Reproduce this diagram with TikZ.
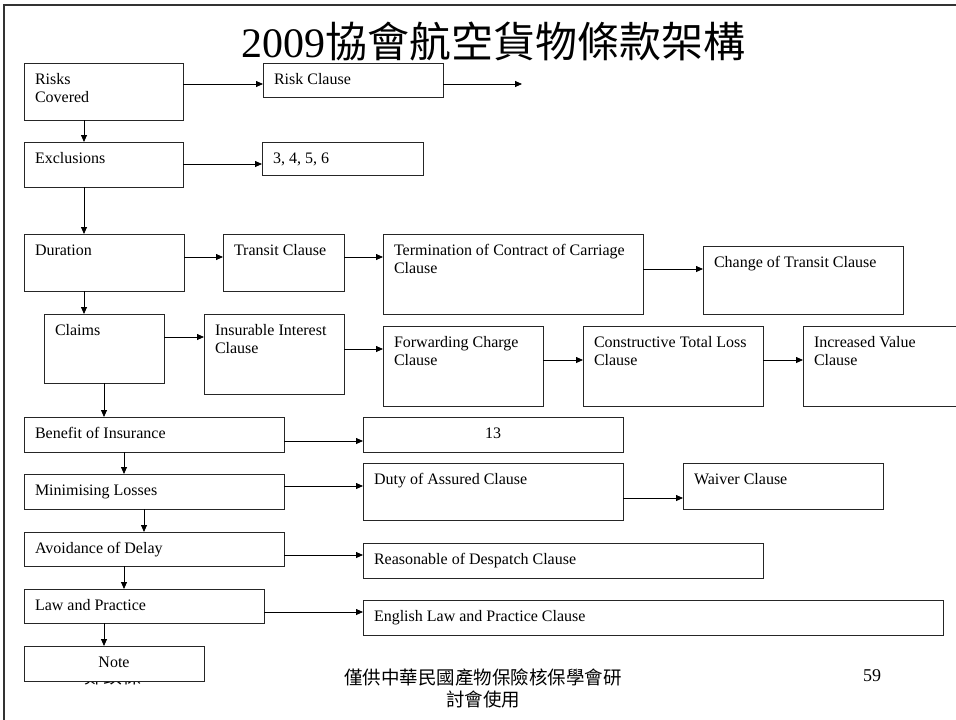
\documentclass[tikz,border=0pt]{standalone}
\usepackage{fontspec}
\setmainfont{Liberation Serif}
\newfontfamily\cjk{Noto Sans CJK TC}
\usetikzlibrary{arrows.meta}
\tikzset{
  boxst/.style={draw=black!85, line width=0.9pt, fill=white, inner sep=0pt, outer sep=0pt, anchor=north west},
  txt/.style={inner sep=0pt, outer sep=0pt, font=\fontsize{16}{18}\selectfont},
  arr/.style={draw=black, line width=0.8pt, -{Triangle[length=7pt,width=6pt]}},
  frame/.style={draw=black!80, line width=1.8pt},
}
\newcommand\ml[1]{\begin{tabular}[t]{@{}l@{}}#1\end{tabular}}
\newcommand\bxt[6]{%
  \node[boxst, minimum width={#4pt-#2pt}, minimum height={#5pt-#3pt}] (#1) at (#2,#3) {};
  \node[txt, anchor=base west] (#1-t) at ({#2+11},{#3+21.5}) {\ml{#6}};}
\newcommand\bxc[6]{%
  \node[boxst, minimum width={#4pt-#2pt}, minimum height={#5pt-#3pt}] (#1) at (#2,#3) {};
  \node[txt, anchor=base] (#1-t) at ({(#2+#4)/2},{#3+21}) {#6};}
\begin{document}
\begin{tikzpicture}[x=1pt, y=-1pt]
\useasboundingbox (0,0) rectangle (956,720);
\clip (0,0) rectangle (956,720);
\draw[frame] (4,720) -- (4,5) -- (960,5);
% title
\node[inner sep=0pt] (title) at (493,41) {\fontsize{42}{42}\selectfont 2009{\cjk 協會航空貨物條款架構}};
% hidden author text (covered by Note box)
\node[inner sep=0pt] (au) at (113,676) {\cjk\fontsize{19}{19}\selectfont 鄭鎮樑};
% boxes
\bxt{rc}{24}{63}{183}{120}{Risks\\Covered}
\bxt{rcl}{263}{63}{443}{97}{Risk Clause}
\bxt{ex}{24}{142}{183}{187}{Exclusions}
\bxt{exn}{262}{142}{423}{175}{3, 4, 5, 6}
\bxt{du}{24}{234}{184}{291}{Duration}
\bxt{tr}{223}{234}{344}{291}{Transit Clause}
\bxt{te}{383}{234}{643}{314}{Termination of Contract of Carriage\\Clause}
\bxt{ch}{703}{246}{903}{314}{Change of Transit Clause}
\bxt{cl}{44}{314}{164}{383}{Claims}
\bxt{ii}{204}{314}{344}{394}{Insurable Interest\\Clause}
\bxt{fw}{383}{326}{543}{406}{Forwarding Charge\\Clause}
\bxt{ct}{583}{326}{763}{406}{Constructive Total Loss\\Clause}
\bxt{iv}{803}{326}{975}{406}{Increased Value\\Clause}
\bxt{bi}{24}{417}{284}{452}{Benefit of Insurance}
\bxc{bt}{363}{417}{623}{452}{13}
\bxt{ml}{24}{474}{284}{509}{Minimising Losses}
\bxt{da}{363}{463}{623}{520}{Duty of Assured Clause}
\bxt{wv}{683}{463}{883}{509}{Waiver Clause}
\bxt{ad}{24}{532}{284}{566}{Avoidance of Delay}
\bxt{rd}{363}{543}{763}{578}{Reasonable of Despatch Clause}
\bxt{lp}{24}{589}{264}{623}{Law and Practice}
\bxt{el}{363}{600}{943}{635}{English Law and Practice Clause}
\bxc{nt}{24}{646}{204}{681}{Note}
% horizontal connectors
\coordinate (rfree) at (522,84);
\draw[arr] (rc.east |- 0,84) -- (rcl.west |- 0,84);
\draw[arr] (rcl.east |- 0,84) -- (rfree);
\draw[arr] (ex.east |- 0,164) -- (exn.west |- 0,164);
\draw[arr] (du.east |- 0,257) -- (tr.west |- 0,257);
\draw[arr] (tr.east |- 0,257) -- (te.west |- 0,257);
\draw[arr] (te.east |- 0,269) -- (ch.west |- 0,269);
\draw[arr] (cl.east |- 0,337) -- (ii.west |- 0,337);
\draw[arr] (ii.east |- 0,349) -- (fw.west |- 0,349);
\draw[arr] (fw.east |- 0,360) -- (ct.west |- 0,360);
\draw[arr] (ct.east |- 0,360) -- (iv.west |- 0,360);
\draw[arr] (bi.east |- 0,441) -- (bt.west |- 0,441);
\draw[arr] (ml.east |- 0,486) -- (da.west |- 0,486);
\draw[arr] (da.east |- 0,498) -- (wv.west |- 0,498);
\draw[arr] (ad.east |- 0,555) -- (rd.west |- 0,555);
\draw[arr] (lp.east |- 0,612) -- (el.west |- 0,612);
% vertical connectors
\draw[arr] (rc.south -| 84,0) -- (ex.north -| 84,0);
\draw[arr] (ex.south -| 84,0) -- (du.north -| 84,0);
\draw[arr] (du.south -| 84,0) -- (cl.north -| 84,0);
\draw[arr] (cl.south -| 104,0) -- (bi.north -| 104,0);
\draw[arr] (bi.south -| 124,0) -- (ml.north -| 124,0);
\draw[arr] (ml.south -| 144,0) -- (ad.north -| 144,0);
\draw[arr] (ad.south -| 124,0) -- (lp.north -| 124,0);
\draw[arr] (lp.south -| 104,0) -- (nt.north -| 104,0);
% footer
\node[inner sep=0pt, align=center, font=\cjk\fontsize{18.5}{22}\selectfont] (ft) at (483,688) {僅供中華民國產物保險核保學會研\\討會使用};
\node[inner sep=0pt] (pg) at (872,676) {\fontsize{18}{18}\selectfont 59};
\end{tikzpicture}
\end{document}
